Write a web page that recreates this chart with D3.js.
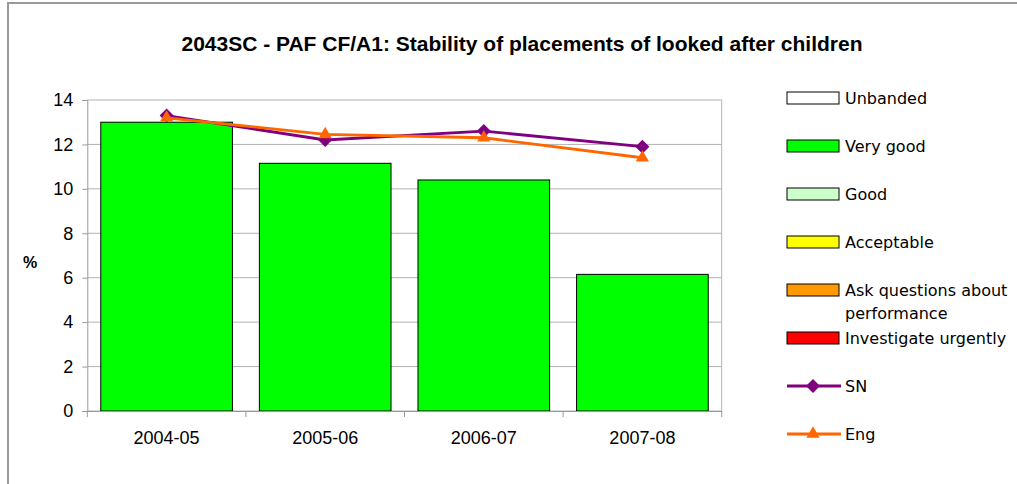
<!DOCTYPE html>
<html>
<head>
<meta charset="utf-8">
<script src="https://cdn.jsdelivr.net/npm/d3@7"></script>
<style>
  body { margin: 0; background: #fff; }
  svg { display: block; }
</style>
</head>
<body>
<div id="chart"></div>
<script>
const years = ['2004-05', '2005-06', '2006-07', '2007-08'];
const veryGood = [13.0, 11.15, 10.4, 6.15];
const sn = [13.3, 12.2, 12.6, 11.9];
const eng = [13.2, 12.45, 12.3, 11.4];
const yTicks = [0, 2, 4, 6, 8, 10, 12, 14];
const legendBands = [
  { name: 'Unbanded', color: '#ffffff' },
  { name: 'Very good', color: '#00ff00' },
  { name: 'Good', color: '#ccffcc' },
  { name: 'Acceptable', color: '#ffff00' },
  { name: ['Ask questions about', 'performance'], color: '#ff9900' },
  { name: 'Investigate urgently', color: '#ff0000' }
];

(() => {
  const W = 1017;
  const H = 484;
  const left = 87.3;
  const right = 721.7;
  const top = 100;
  const bottom = 411;

  const svg = d3.select('#chart')
    .append('svg')
    .attr('width', W)
    .attr('height', H);

  // chart frame
  svg.append('rect')
    .attr('x', 8)
    .attr('y', 3)
    .attr('width', W + 20)
    .attr('height', H + 20)
    .attr('fill', '#fff')
    .attr('stroke', '#999')
    .attr('stroke-width', 2);

  svg.append('text')
    .attr('x', 522)
    .attr('y', 51)
    .attr('text-anchor', 'middle')
    .style('font', 'bold 21px "Liberation Sans", Arial, sans-serif')
    .text('2043SC - PAF CF/A1: Stability of placements of looked after children');

  const x = d3.scaleBand()
    .domain(years)
    .range([left, right])
    .paddingInner(0.17)
    .paddingOuter(0.085);
  const y = d3.scaleLinear().domain([0, 14]).range([bottom, top]);
  const cx = d => x(d) + x.bandwidth() / 2;

  // gridlines
  svg.append('g')
    .selectAll('line')
    .data(yTicks)
    .enter().append('line')
    .attr('x1', left)
    .attr('x2', right)
    .attr('y1', d => y(d))
    .attr('y2', d => y(d))
    .attr('stroke', '#b3b3b3')
    .attr('stroke-width', 1);

  svg.append('line')
    .attr('x1', right).attr('x2', right)
    .attr('y1', top).attr('y2', bottom)
    .attr('stroke', '#b3b3b3');

  // bars
  svg.append('g')
    .selectAll('rect')
    .data(veryGood)
    .enter().append('rect')
    .attr('x', (d, i) => x(years[i]))
    .attr('y', d => y(d))
    .attr('width', x.bandwidth())
    .attr('height', d => bottom - y(d))
    .attr('fill', '#00ff00')
    .attr('stroke', '#000')
    .attr('stroke-width', 1);

  // axes
  const yAxis = svg.append('g')
    .attr('transform', `translate(${left},0)`)
    .call(d3.axisLeft(y).tickValues(yTicks).tickSize(5).tickPadding(9).tickFormat(d3.format('d')));
  const step = x.step();
  const xAxis = svg.append('g')
    .attr('transform', `translate(0,${bottom})`)
    .call(d3.axisBottom(x).tickSize(0).tickPadding(20));
  xAxis.selectAll('.tick')
    .append('line')
    .attr('x1', -step / 2).attr('x2', -step / 2)
    .attr('y1', 0).attr('y2', 6)
    .attr('stroke', '#999');
  xAxis.append('line')
    .attr('x1', right).attr('x2', right)
    .attr('y1', 0).attr('y2', 6)
    .attr('stroke', '#999');
  [yAxis, xAxis].forEach((g) => {
    g.select('.domain').attr('stroke', '#999');
    g.selectAll('.tick line').attr('stroke', '#999');
    g.selectAll('text')
      .attr('fill', '#000')
      .style('font', '18px "Liberation Sans", Arial, sans-serif');
  });

  svg.append('text')
    .attr('x', 30)
    .attr('y', 268)
    .attr('text-anchor', 'middle')
    .style('font', 'bold 16px "Liberation Sans", Arial, sans-serif')
    .text('%');

  // lines
  const line = d3.line()
    .x((d, i) => cx(years[i]))
    .y(d => y(d));
  const diamond = d3.symbol().type(d3.symbolDiamond2).size(125);
  const triangle = d3.symbol().type(d3.symbolTriangle2).size(125);

  function drawSeries(values, color, sym) {
    svg.append('path')
      .datum(values)
      .attr('d', line)
      .attr('fill', 'none')
      .attr('stroke', color)
      .attr('stroke-width', 2.8);
    svg.append('g')
      .selectAll('path')
      .data(values)
      .enter().append('path')
      .attr('d', sym)
      .attr('transform', (d, i) => `translate(${cx(years[i])},${y(d)})`)
      .attr('fill', color);
  }
  drawSeries(sn, '#800080', diamond);
  drawSeries(eng, '#ff6600', triangle);

  // legend
  const lx = 787;
  const tx = 845;
  const legendFont = '16px "DejaVu Sans", Tahoma, sans-serif';
  const bandYs = [98, 146, 194, 242, 290, 338];
  legendBands.forEach((b, i) => {
    const ly = bandYs[i];
    svg.append('rect')
      .attr('x', lx)
      .attr('y', ly - 6)
      .attr('width', 52)
      .attr('height', 12)
      .attr('fill', b.color)
      .attr('stroke', '#000')
      .attr('stroke-width', 1);
    const t = svg.append('text')
      .attr('x', tx)
      .attr('y', ly + 6)
      .style('font', legendFont)
      .attr('fill', '#000');
    const lines = Array.isArray(b.name) ? b.name : [b.name];
    lines.forEach((s, j) => {
      t.append('tspan').attr('x', tx).attr('dy', j === 0 ? 0 : 23).text(s);
    });
  });

  [{ name: 'SN', color: '#800080', sym: diamond, y: 386 },
    { name: 'Eng', color: '#ff6600', sym: triangle, y: 434 }].forEach((s) => {
    svg.append('line')
      .attr('x1', lx).attr('x2', lx + 54)
      .attr('y1', s.y).attr('y2', s.y)
      .attr('stroke', s.color)
      .attr('stroke-width', 2.8);
    svg.append('path')
      .attr('d', s.sym)
      .attr('transform', `translate(${lx + 26},${s.y})`)
      .attr('fill', s.color);
    svg.append('text')
      .attr('x', tx)
      .attr('y', s.y + 6)
      .style('font', legendFont)
      .attr('fill', '#000')
      .text(s.name);
  });
})();
</script>
</body>
</html>
